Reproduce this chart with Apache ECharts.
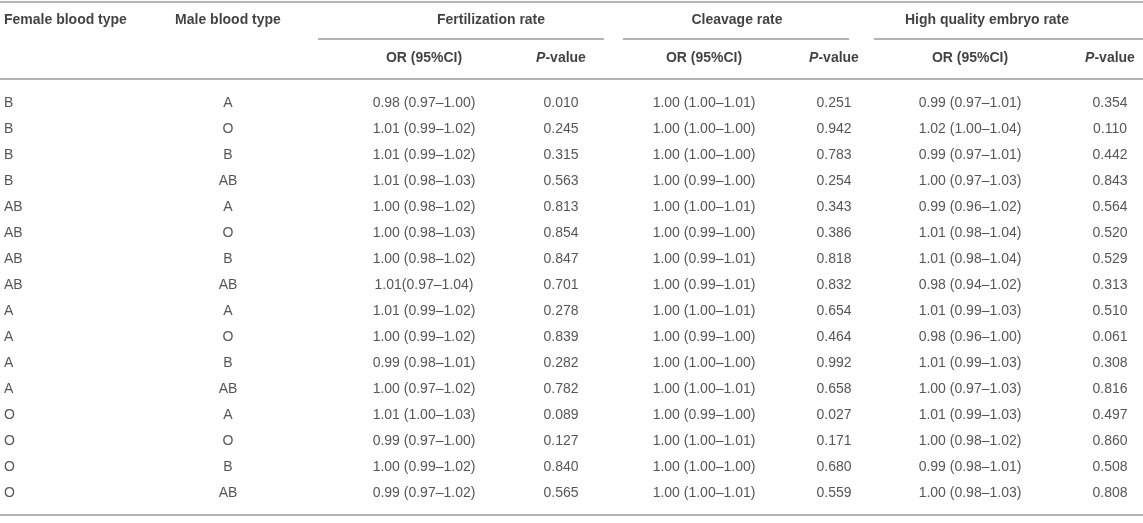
<!DOCTYPE html>
<html>
<head>
<meta charset="utf-8">
<script src="https://cdn.jsdelivr.net/npm/echarts@6/dist/echarts.min.js"></script>
<style>
html,body{margin:0;padding:0;background:#fff;}
#chart{width:1143px;height:523px;}
</style>
</head>
<body>
<div id="chart"></div>
<script>
// ---- data ----
var headerRow = ['Female blood type', 'Male blood type'];
var groupHeaders = ['Fertilization rate', 'Cleavage rate', 'High quality embryo rate'];
var subHeaders = ['OR (95%CI)', 'P-value', 'OR (95%CI)', 'P-value', 'OR (95%CI)', 'P-value'];

var femaleType = ['B','B','B','B','AB','AB','AB','AB','A','A','A','A','O','O','O','O'];
var maleType = ['A','O','B','AB','A','O','B','AB','A','O','B','AB','A','O','B','AB'];
var fertOR = ['0.98 (0.97–1.00)','1.01 (0.99–1.02)','1.01 (0.99–1.02)','1.01 (0.98–1.03)','1.00 (0.98–1.02)','1.00 (0.98–1.03)','1.00 (0.98–1.02)','1.01(0.97–1.04)','1.01 (0.99–1.02)','1.00 (0.99–1.02)','0.99 (0.98–1.01)','1.00 (0.97–1.02)','1.01 (1.00–1.03)','0.99 (0.97–1.00)','1.00 (0.99–1.02)','0.99 (0.97–1.02)'];
var fertP = ['0.010','0.245','0.315','0.563','0.813','0.854','0.847','0.701','0.278','0.839','0.282','0.782','0.089','0.127','0.840','0.565'];
var cleavOR = ['1.00 (1.00–1.01)','1.00 (1.00–1.00)','1.00 (1.00–1.00)','1.00 (0.99–1.00)','1.00 (1.00–1.01)','1.00 (0.99–1.00)','1.00 (0.99–1.01)','1.00 (0.99–1.01)','1.00 (1.00–1.01)','1.00 (0.99–1.00)','1.00 (1.00–1.00)','1.00 (1.00–1.01)','1.00 (0.99–1.00)','1.00 (1.00–1.01)','1.00 (1.00–1.00)','1.00 (1.00–1.01)'];
var cleavP = ['0.251','0.942','0.783','0.254','0.343','0.386','0.818','0.832','0.654','0.464','0.992','0.658','0.027','0.171','0.680','0.559'];
var hqOR = ['0.99 (0.97–1.01)','1.02 (1.00–1.04)','0.99 (0.97–1.01)','1.00 (0.97–1.03)','0.99 (0.96–1.02)','1.01 (0.98–1.04)','1.01 (0.98–1.04)','0.98 (0.94–1.02)','1.01 (0.99–1.03)','0.98 (0.96–1.00)','1.01 (0.99–1.03)','1.00 (0.97–1.03)','1.01 (0.99–1.03)','1.00 (0.98–1.02)','0.99 (0.98–1.01)','1.00 (0.98–1.03)'];
var hqP = ['0.354','0.110','0.442','0.843','0.564','0.520','0.529','0.313','0.510','0.061','0.308','0.816','0.497','0.860','0.508','0.808'];

// ---- layout (positions on a pixel-like x scale) ----
var W = 1143;
var colX = [4, 228, 424, 561, 704, 834, 970, 1110];
var groupX = [491, 737, 987];
var groupSpan = [[318, 604], [623, 849], [874, 1143]];
var FONT = '"Liberation Sans", Arial, Helvetica, sans-serif';
var BODY_COLOR = '#2b2b2b';
var HEAD_COLOR = '#111111';
var LINE_COLOR = '#b4b4b4';
var FS = 14;

var columns = [femaleType, maleType, fertOR, fertP, cleavOR, cleavP, hqOR, hqP];
var rowIdx = femaleType.map(function (_, i) { return i; });

function fmtP(s) { return s.replace('P-value', '{i|P}-value'); }

var series = [];
// body cells
columns.forEach(function (col, c) {
  series.push({
    type: 'scatter', xAxisIndex: 1, yAxisIndex: 1, symbolSize: 0, silent: true,
    data: col.map(function (txt, r) { return { value: [colX[c], r], txt: txt }; }),
    label: {
      show: true, position: 'inside', align: c === 0 ? 'left' : 'center', verticalAlign: 'middle',
      fontFamily: FONT, fontSize: FS, color: BODY_COLOR,
      formatter: function (p) { return p.data.txt; }
    }
  });
});
// header row cells
var headCells = [];
headerRow.forEach(function (t, i) { headCells.push({ value: [colX[i], 0], txt: t, al: i === 0 ? 'left' : 'center' }); });
groupHeaders.forEach(function (t, i) { headCells.push({ value: [groupX[i], 0], txt: t, al: 'center' }); });
subHeaders.forEach(function (t, i) { headCells.push({ value: [colX[i + 2], 1], txt: fmtP(t), al: 'center' }); });
series.push({
  type: 'scatter', xAxisIndex: 0, yAxisIndex: 0, symbolSize: 0, silent: true,
  data: headCells.map(function (d) {
    return { value: d.value, txt: d.txt, label: { align: d.al } };
  }),
  label: {
    show: true, position: 'inside', verticalAlign: 'middle',
    fontFamily: FONT, fontSize: FS, fontWeight: 'bold', color: HEAD_COLOR,
    formatter: function (p) { return p.data.txt; },
    rich: { i: { fontFamily: FONT, fontSize: FS, fontWeight: 'bold', fontStyle: 'italic', color: HEAD_COLOR } }
  }
});

var hiddenX = { type: 'value', min: 0, max: W, show: false };
var option = {
  animation: false,
  backgroundColor: '#ffffff',
  grid: [
    { left: 0, right: 0, top: 1, height: 76 },
    { left: 0, right: 0, top: 90, height: 416 }
  ],
  xAxis: [
    Object.assign({ gridIndex: 0 }, hiddenX),
    Object.assign({ gridIndex: 1 }, hiddenX)
  ],
  yAxis: [
    { gridIndex: 0, type: 'category', data: ['head', 'sub'], inverse: true, show: false },
    { gridIndex: 1, type: 'category', data: rowIdx, inverse: true, show: false }
  ],
  series: series,
  graphic: [
    { type: 'line', shape: { x1: 0, y1: 2, x2: W, y2: 2 }, style: { stroke: LINE_COLOR, lineWidth: 2 }, silent: true },
    { type: 'line', shape: { x1: 0, y1: 79, x2: W, y2: 79 }, style: { stroke: LINE_COLOR, lineWidth: 2 }, silent: true },
    { type: 'line', shape: { x1: 0, y1: 515, x2: W, y2: 515 }, style: { stroke: LINE_COLOR, lineWidth: 2 }, silent: true }
  ].concat(groupSpan.map(function (s) {
    return { type: 'line', shape: { x1: s[0], y1: 39, x2: s[1], y2: 39 }, style: { stroke: LINE_COLOR, lineWidth: 2 }, silent: true };
  }))
};

var chart = echarts.init(document.getElementById('chart'), null, { renderer: 'canvas' });
chart.setOption(option);
</script>
</body>
</html>
